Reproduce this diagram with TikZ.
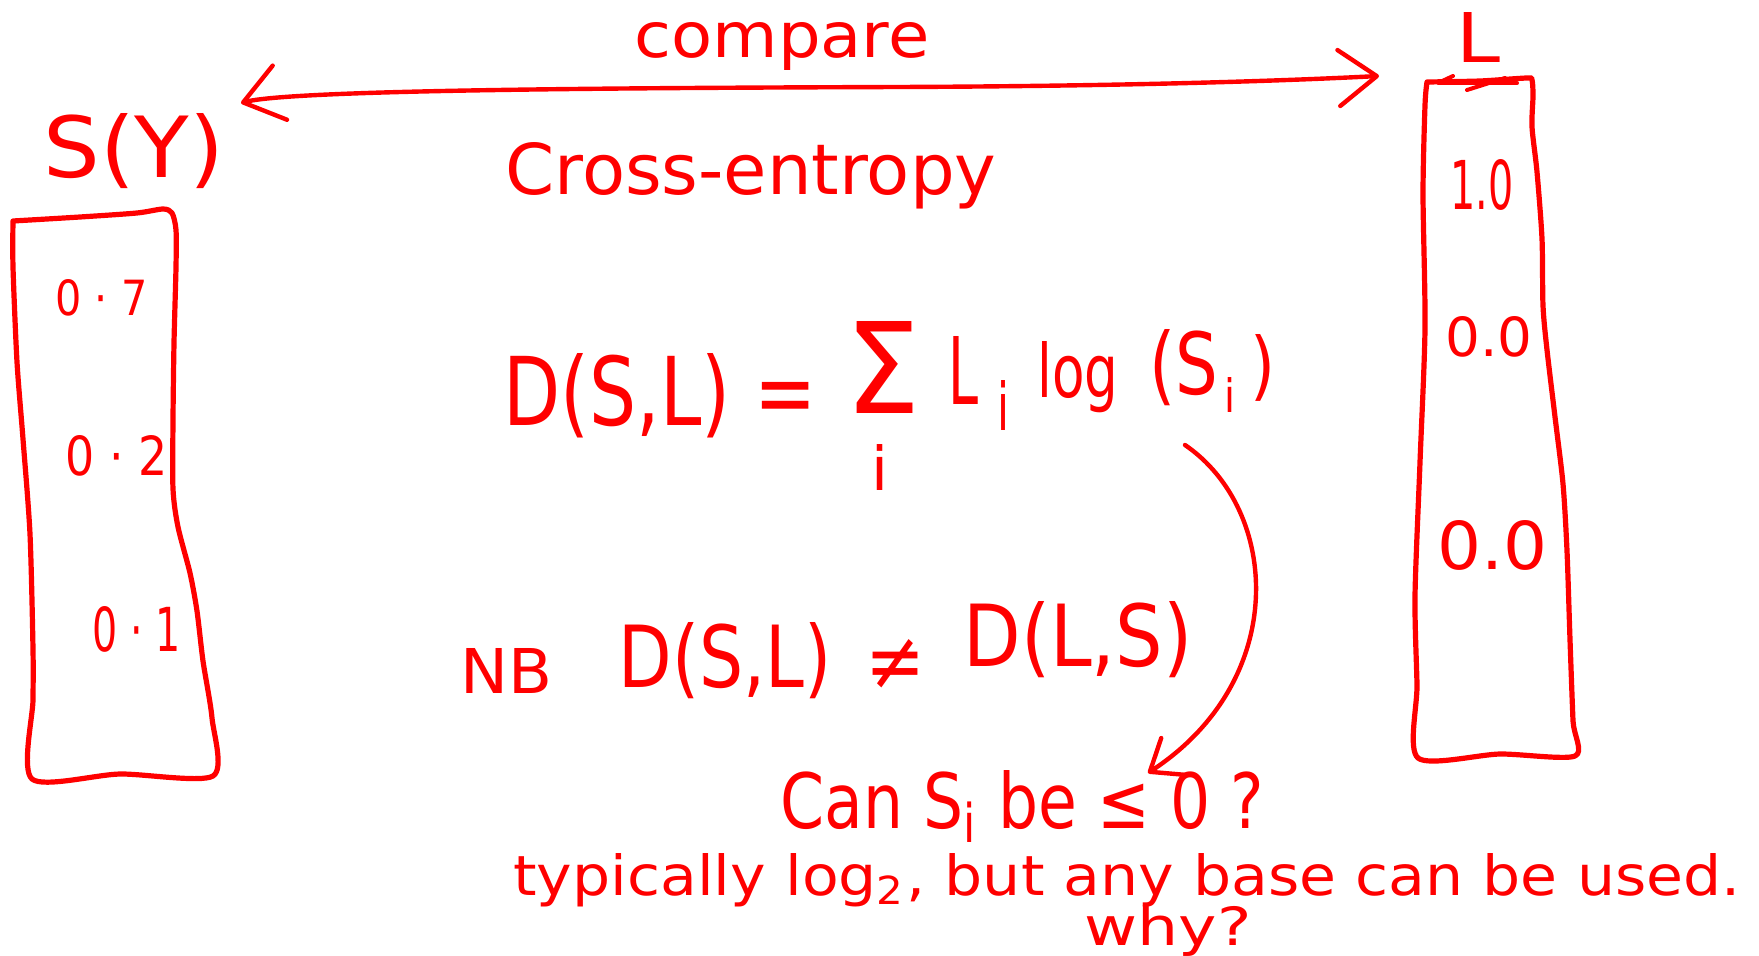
\documentclass[tikz,border=0pt]{standalone}
\usepackage{fontspec}
\setmainfont{DejaVu Sans}
\usepackage{graphicx}
\usetikzlibrary{arrows.meta}
\newlength\hwu
\setlength\hwu{0.5pt}
\newcommand\hw[3]{\resizebox{#1\hwu}{#2\hwu}{#3}}
\begin{document}
\begin{tikzpicture}[x=0.5pt,y=-0.5pt,
  box/.style={draw=red, line width=2.6pt, line cap=round, line join=round},
  conn/.style={draw=red, line width=2.2pt, line cap=round, line join=round},
  txt/.style={text=red, inner sep=0pt, anchor=base west}]
\useasboundingbox (0,0) rectangle (1759,956);
% left box S(Y)
\draw[box] plot[smooth, tension=0.45] coordinates {(13,221) (80,217) (137,213) (163,209) (172,213) (176,230) (176,267) (174,343) (173,420) (173,489) (178,527) (190,573) (197,611) (203,661) (212,718) (213,776) (120,774) (32,779) (33,700) (33,649) (30,534) (23,439) (17,362) (13,267) (13,221)};
% right box L
\draw[box] plot[smooth, tension=0.45] coordinates {(1427,82) (1480,81) (1527,78) (1532,80) (1533,96) (1532,127) (1537,172) (1542,239) (1543,306) (1547,350) (1555,417) (1563,484) (1567,551) (1570,640) (1573,721) (1575,756) (1500,754) (1418,758) (1417,685) (1415,596) (1420,462) (1425,328) (1423,194) (1425,105) (1427,82)};
\draw[conn, line width=2pt] (1453,76) -- (1438,83) -- (1517,83);
\draw[conn, line width=2pt] (1467,90) -- (1505,78);
% labels of boxes
\node[txt] (sy) at (43,178) {\hw{181}{64}{S(Y)}};
\node[txt] (lbl) at (1456,63) {\hw{44}{50}{L}};
\node[txt] (s1) at (55,316) {\hw{92}{36}{0 · 7}};
\node[txt] (s2) at (65,475) {\hw{102}{40}{0 · 2}};
\node[txt] (s3) at (92,651) {\hw{88}{45}{0 · 1}};
\node[txt] (l1) at (1450,210) {\hw{63}{50}{1.0}};
\node[txt] (l2) at (1445,357) {\hw{87}{40}{0.0}};
\node[txt] (l3) at (1437,569) {\hw{110}{49}{0.0}};
% compare arrow
\node[txt] (cmp) at (634,58) {\hw{295}{35}{compare}};
\coordinate (cmpL) at (241,103);
\coordinate (cmpR) at (1379,76);
\draw[conn, {Straight Barb[round,length=19pt,width=28pt]}-{Straight Barb[round,length=19pt,width=28pt]}] (cmpL) .. controls (290,90) and (600,88) .. (900,87) .. controls (1150,86) and (1300,80) .. (cmpR);
\node[txt] (ce) at (505,195) {\hw{491}{52}{Cross-entropy}};
% formula
\node[txt] (dsl) at (503,425) {\hw{313}{72}{D(S,L) =}};
\node[txt] (sig) at (845,414) {\hw{75}{92}{Σ}};
\node[txt] (sigi) at (871,490) {\hw{17}{46}{i}};
\node[txt] (li) at (948,405) {\hw{30}{68}{L}};
\node[txt] (lii) at (997,430) {\hw{12}{50}{i}};
\node[txt] (lg) at (1037,398) {\hw{81}{56}{log}};
\node[txt] (ps) at (1149,395) {\hw{69}{65}{(S}};
\node[txt] (psi) at (1224,413) {\hw{11}{35}{i}};
\node[txt] (pc) at (1250,392) {\hw{25}{57}{)}};
% NB line
\node[txt] (nb) at (460,693) {\hw{92}{45}{NB}};
\node[txt] (nb1) at (618,687) {\hw{213}{65}{D(S,L)}};
\node[text=red, inner sep=0pt] (neq) at (895,664) {\hw{60}{50}{≠}};
\node[txt] (nb2) at (963,666) {\hw{229}{65}{D(L,S)}};
% question
\coordinate (qs) at (1185,445);
\coordinate (qe) at (1148,773);
\draw[conn, -{Straight Barb[round,length=14pt,width=22pt]}] (qs) .. controls (1280,510) and (1290,680) .. (qe);
\node[txt] (can) at (780,828) {\hw{484}{58}{Can S\textsubscript{i} be ≤ 0 ?}};
\node[txt] (typ) at (513,895) {\hw{1227}{42}{typically log\textsubscript{2}, but any base can be used.}};
\node[txt] (why) at (1084,945) {\hw{167}{40}{why?}};
\end{tikzpicture}
\end{document}
